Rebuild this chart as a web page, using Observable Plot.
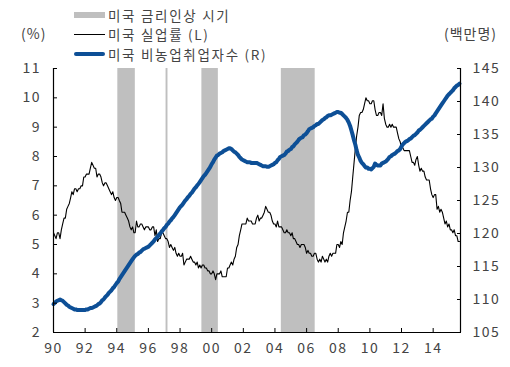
<!DOCTYPE html>
<html><head><meta charset="utf-8">
<script src="https://cdn.jsdelivr.net/npm/d3@7"></script>
<script src="https://cdn.jsdelivr.net/npm/@observablehq/plot@0.6"></script>
<style>
body{margin:0;background:#fff;font-family:"Noto Sans CJK KR",sans-serif;}
#wrap{position:relative;width:510px;height:367px;overflow:hidden;}
#head{position:relative;height:60px;}
.lg{position:absolute;left:74px;height:16px;font-size:13.5px;line-height:16px;color:#444;display:flex;align-items:center;white-space:nowrap;letter-spacing:1.7px}
.sw{display:inline-block;width:31px;margin-right:3px}
.unit{position:absolute;top:25px;height:16px;line-height:16px;font-size:14px;color:#444;letter-spacing:1px}
#chart svg text{fill:#444;letter-spacing:1.5px}
</style></head>
<body><div id="wrap">
<div id="head">
  <div class="lg" style="top:6.5px"><span class="sw" style="height:6px;background:#bfbfbf"></span><span id="l1"></span></div>
  <div class="lg" style="top:26px"><span class="sw" style="height:1px;background:#000"></span><span id="l2"></span></div>
  <div class="lg" style="top:45.5px"><span class="sw" style="height:4px;background:#0d4f96;border-radius:2px"></span><span id="l3"></span></div>
  <div class="unit" id="uL" style="left:21px"></div>
  <div class="unit" id="uR" style="left:444px"></div>
</div>
<div id="chart"></div>
</div>
<script>
const legendLabels = ["미국 금리인상 시기", "미국 실업률 (L)", "미국 비농업취업자수 (R)"];
const unitLeft = "(%)";
const unitRight = "(백만명)";

const startYear = 1990;
// US unemployment rate, monthly, Jan 1990 - Sep 2015 (%)
const unemp = [
 5.4,5.3,5.2,5.4,5.4,5.2,5.5,5.7,5.9,5.9,6.2,6.3,
 6.4,6.6,6.8,6.7,6.9,6.9,6.8,6.9,6.9,7.0,7.0,7.3,
 7.3,7.4,7.4,7.4,7.6,7.8,7.7,7.6,7.6,7.3,7.4,7.4,
 7.3,7.1,7.0,7.1,7.1,7.0,6.9,6.8,6.7,6.8,6.6,6.5,
 6.6,6.6,6.5,6.4,6.1,6.1,6.1,6.0,5.9,5.8,5.6,5.5,
 5.6,5.4,5.4,5.8,5.6,5.6,5.7,5.7,5.6,5.5,5.6,5.6,
 5.6,5.5,5.5,5.6,5.6,5.3,5.5,5.1,5.2,5.2,5.4,5.4,
 5.3,5.2,5.2,5.1,4.9,5.0,4.9,4.8,4.9,4.7,4.6,4.7,
 4.6,4.6,4.7,4.3,4.4,4.5,4.5,4.5,4.6,4.5,4.4,4.4,
 4.3,4.4,4.2,4.3,4.2,4.3,4.3,4.2,4.2,4.1,4.1,4.0,
 4.0,4.1,4.0,3.8,4.0,4.0,4.0,4.1,3.9,3.9,3.9,3.9,
 4.2,4.2,4.3,4.4,4.3,4.5,4.6,4.9,5.0,5.3,5.5,5.7,
 5.7,5.7,5.7,5.9,5.8,5.8,5.8,5.7,5.7,5.7,5.9,6.0,
 5.8,5.9,5.9,6.0,6.1,6.3,6.2,6.1,6.1,6.0,5.8,5.7,
 5.7,5.6,5.8,5.6,5.6,5.6,5.5,5.4,5.4,5.5,5.4,5.4,
 5.3,5.4,5.2,5.2,5.1,5.0,5.0,4.9,5.0,5.0,5.0,4.9,
 4.7,4.8,4.7,4.7,4.6,4.6,4.7,4.7,4.5,4.4,4.5,4.4,
 4.6,4.5,4.4,4.5,4.4,4.6,4.7,4.6,4.7,4.7,4.7,5.0,
 5.0,4.9,5.1,5.0,5.4,5.6,5.8,6.1,6.1,6.5,6.8,7.3,
 7.8,8.3,8.7,9.0,9.4,9.5,9.5,9.6,9.8,10.0,9.9,9.9,
 9.8,9.8,9.9,9.9,9.6,9.4,9.4,9.5,9.5,9.4,9.8,9.3,
 9.1,9.0,9.0,9.1,9.0,9.1,9.0,9.0,9.0,8.8,8.6,8.5,
 8.3,8.3,8.2,8.2,8.2,8.2,8.2,8.0,7.8,7.8,7.7,7.9,
 8.0,7.7,7.5,7.6,7.5,7.5,7.3,7.2,7.2,7.2,6.9,6.7,
 6.6,6.7,6.7,6.2,6.3,6.1,6.2,6.1,5.9,5.7,5.8,5.6,
 5.7,5.5,5.5,5.4,5.5,5.3,5.3,5.1,5.1
];
// US nonfarm payrolls, monthly, Jan 1990 - Sep 2015 (millions)
const payrolls = [
 109.3,109.5,109.7,109.8,109.9,110.0,109.9,109.8,109.6,109.4,109.2,109.1,
 108.9,108.8,108.7,108.6,108.5,108.5,108.4,108.4,108.4,108.4,108.4,108.4,
 108.4,108.5,108.5,108.6,108.7,108.7,108.8,108.9,109.0,109.1,109.3,109.4,
 109.6,109.9,110.0,110.3,110.5,110.7,111.0,111.2,111.4,111.7,111.9,112.2,
 112.5,112.7,113.1,113.4,113.7,114.0,114.3,114.6,114.9,115.2,115.5,115.8,
 116.1,116.4,116.6,116.8,116.9,117.1,117.2,117.4,117.6,117.7,117.8,117.9,
 118.0,118.2,118.4,118.6,118.8,119.1,119.3,119.5,119.8,120.0,120.3,120.5,
 120.8,121.0,121.3,121.5,121.8,122.0,122.3,122.5,122.8,123.1,123.4,123.7,
 124.0,124.2,124.4,124.7,125.0,125.2,125.5,125.7,126.0,126.2,126.5,126.8,
 127.0,127.3,127.5,127.8,128.1,128.4,128.7,128.9,129.2,129.5,129.8,130.1,
 130.5,130.8,131.2,131.5,131.8,131.9,132.1,132.2,132.3,132.5,132.6,132.7,
 132.8,132.9,132.9,132.8,132.6,132.4,132.3,132.1,131.9,131.6,131.4,131.2,
 131.1,131.0,130.9,130.8,130.8,130.8,130.7,130.7,130.7,130.7,130.7,130.6,
 130.5,130.4,130.3,130.2,130.2,130.2,130.1,130.1,130.2,130.3,130.4,130.5,
 130.7,130.8,131.1,131.3,131.6,131.7,131.8,131.9,132.1,132.4,132.5,132.7,
 132.8,133.1,133.2,133.5,133.7,133.9,134.2,134.4,134.5,134.6,134.9,135.0,
 135.2,135.5,135.8,135.9,136.0,136.1,136.3,136.4,136.6,136.6,136.8,137.0,
 137.2,137.3,137.5,137.6,137.8,137.9,137.9,138.0,138.1,138.2,138.3,138.4,
 138.4,138.3,138.3,138.1,137.9,137.7,137.5,137.2,136.8,136.3,135.6,134.9,
 134.1,133.4,132.6,131.9,131.5,131.0,130.7,130.5,130.2,130.0,130.0,129.8,
 129.8,129.7,129.9,130.1,130.6,130.4,130.3,130.3,130.3,130.6,130.7,130.8,
 130.9,131.1,131.3,131.6,131.7,131.9,132.0,132.1,132.3,132.5,132.6,132.8,
 133.2,133.5,133.7,133.9,134.0,134.1,134.3,134.4,134.6,134.8,134.9,135.1,
 135.3,135.6,135.7,135.9,136.1,136.3,136.5,136.7,136.9,137.1,137.3,137.4,
 137.7,137.9,138.2,138.5,138.8,139.1,139.4,139.7,140.0,140.3,140.6,140.9,
 141.1,141.3,141.5,141.7,142.0,142.2,142.4,142.5,142.7
];
// Fed rate-hike periods
const hikeStart = ["1994-01-25","1997-02-12","1999-05-20","2004-05-27"];
const hikeEnd   = ["1995-03-05","1997-03-28","2000-06-03","2006-07-18"];

const xStart = "1990-01-01", xEnd = "2015-09-24";
const xTickYears = [1990,1992,1994,1996,1998,2000,2002,2004,2006,2008,2010,2012,2014];
const leftTicks = [2,3,4,5,6,7,8,9,10,11];
const rightTicks = [105,110,115,120,125,130,135,140,145];

document.getElementById("l1").textContent = legendLabels[0];
document.getElementById("l2").textContent = legendLabels[1];
document.getElementById("l3").textContent = legendLabels[2];
document.getElementById("uL").textContent = unitLeft;
document.getElementById("uR").textContent = unitRight;

const lMin = leftTicks[0], lMax = leftTicks[leftTicks.length-1];
const rMin = rightTicks[0], rMax = rightTicks[rightTicks.length-1];
const toLeft = p => lMin + (p - rMin) * (lMax - lMin) / (rMax - rMin);
const toRight = y => rMin + (y - lMin) * (rMax - rMin) / (lMax - lMin);

const dateOf = i => new Date(Date.UTC(startYear, i, 1));
const uData = unemp.map((v, i) => ({date: dateOf(i), v}));
const pData = payrolls.map((v, i) => ({date: dateOf(i), v}));
const bands = hikeStart.map((s, i) => ({start: new Date(s), end: new Date(hikeEnd[i])}));
const x0 = new Date(xStart), x1 = new Date(xEnd);

const chart = Plot.plot({
  width: 510, height: 307,
  marginTop: 8, marginBottom: 35, marginLeft: 53, marginRight: 50,
  style: {fontFamily: '"Noto Sans CJK KR", sans-serif', fontSize: "14px", color: "#000", background: "#fff", overflow: "visible"},
  x: {type: "utc", domain: [x0, x1]},
  y: {domain: [lMin, lMax]},
  marks: [
    Plot.rectX(bands, {x1: "start", x2: "end", fill: "#bfbfbf"}),
    Plot.line(uData, {x: "date", y: "v", stroke: "#000", strokeWidth: 1.1}),
    Plot.line(pData, {x: "date", y: d => toLeft(d.v), stroke: "#0d4f96", strokeWidth: 4, strokeLinejoin: "round", strokeLinecap: "round"}),
    Plot.ruleY([lMin], {stroke: "#000", strokeWidth: 1.2}),
    Plot.ruleX([x0, x1], {stroke: "#000", strokeWidth: 1.2}),
    Plot.axisX({ticks: xTickYears.map(y => new Date(Date.UTC(y, 0, 1))), tickFormat: d3.utcFormat("%y"), tickSize: -4, tickPadding: 15, label: null}),
    Plot.axisY({anchor: "left", ticks: leftTicks, tickSize: -4, tickPadding: 16.5, label: null}),
    Plot.axisY({anchor: "right", ticks: rightTicks.map(toLeft), tickFormat: y => String(Math.round(toRight(y))), tickSize: -4, tickPadding: 16, label: null})
  ]
});
document.getElementById("chart").appendChild(chart);
</script>
</body></html>
